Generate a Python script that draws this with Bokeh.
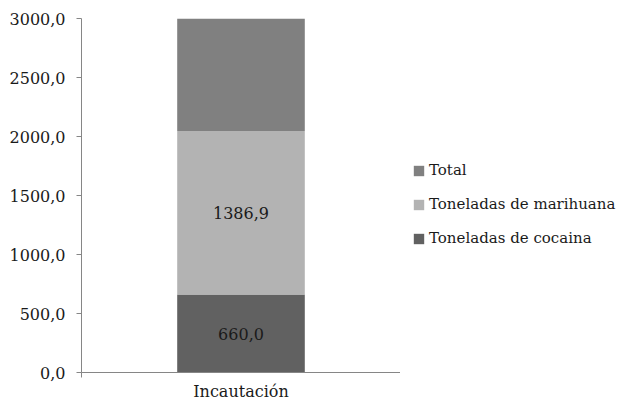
from bokeh.plotting import figure
from bokeh.layouts import row
from bokeh.models import (ColumnDataSource, FixedTicker, Legend, LegendItem,
                          LabelSet, Range1d, FactorRange, LinearAxis)
from bokeh.core.properties import value
from bokeh.embed import file_html
from bokeh.resources import INLINE

# ---- data ----
categories = ["Incautación"]
series_names = ["Toneladas de cocaina", "Toneladas de marihuana", "Total"]
cocaina = [660.0]
marihuana = [1386.9]
total = [2046.9]
y_ticks = [0, 500, 1000, 1500, 2000, 2500, 3000]
y_tick_labels = ["0,0", "500,0", "1000,0", "1500,0", "2000,0", "2500,0", "3000,0"]
colors = ["#616161", "#b3b3b3", "#808080"]

SERIF = "DejaVu Serif"
AXIS_COLOR = "#868686"
TEXT_COLOR = "#1a1a1a"

source = ColumnDataSource(dict(cat=categories, coc=cocaina, mar=marihuana, tot=total))
stack_cols = ["coc", "mar", "tot"]

x_range = FactorRange(factors=categories, range_padding=0)
p = figure(x_range=x_range,
           y_range=Range1d(0, 3000),
           width=400, height=406,
           min_border_left=81, min_border_right=0,
           min_border_top=18, min_border_bottom=34,
           x_axis_type=None,
           output_backend="svg", toolbar_location=None)

renderers = p.vbar_stack(stack_cols, x="cat", width=0.4,
                         color=colors, line_color=None, source=source)

# segment labels (cocaina, marihuana)
mids = [cocaina[0] / 2, cocaina[0] + marihuana[0] / 2]
texts = [f"{v:.1f}".replace(".", ",") for v in (cocaina[0], marihuana[0])]
lab_src = ColumnDataSource(dict(x=[categories[0]] * 2, y=mids, t=texts))
p.add_layout(LabelSet(x="x", y="y", text="t", source=lab_src,
                      text_align="center", text_baseline="middle",
                      text_font=value(SERIF), text_font_size="16px",
                      text_color=TEXT_COLOR))

# axes
p.xgrid.visible = False
p.ygrid.visible = False
p.outline_line_color = None

p.yaxis.ticker = FixedTicker(ticks=y_ticks)
p.yaxis.major_label_overrides = {t: l for t, l in zip(y_ticks, y_tick_labels)}
p.yaxis.minor_tick_line_color = None
p.yaxis.major_tick_out = 5
p.yaxis.major_tick_in = 0
p.yaxis.major_label_standoff = 11
p.yaxis.axis_line_color = AXIS_COLOR
p.yaxis.major_tick_line_color = AXIS_COLOR
p.yaxis.major_label_text_font = SERIF
p.yaxis.major_label_text_font_size = "16px"
p.yaxis.major_label_text_color = TEXT_COLOR

# x axis: tick marks at the category boundaries, category name centred
n_cat = len(categories)
xaxis = LinearAxis(ticker=FixedTicker(ticks=list(range(n_cat + 1))),
                   major_label_overrides={i: "" for i in range(n_cat + 1)},
                   major_label_text_font_size="1px",
                   major_label_standoff=0,
                   minor_tick_line_color=None,
                   major_tick_out=5, major_tick_in=0,
                   major_tick_line_color=AXIS_COLOR,
                   axis_line_color=AXIS_COLOR,
                   axis_label=categories[0],
                   axis_label_standoff=4,
                   axis_label_text_font=SERIF,
                   axis_label_text_font_size="16px",
                   axis_label_text_font_style="normal",
                   axis_label_text_color=TEXT_COLOR)
p.add_layout(xaxis, "below")

# ---- legend panel (separate figure to the right) ----
lg = figure(x_range=FactorRange(factors=categories), y_range=Range1d(-2, -1),
            width=231, height=406,
            min_border_left=0, min_border_right=0,
            min_border_top=18, min_border_bottom=34,
            x_axis_type=None, y_axis_type=None,
            output_backend="svg", toolbar_location=None)
lg.xgrid.visible = False
lg.ygrid.visible = False
lg.outline_line_color = None
lg_renderers = lg.vbar_stack(stack_cols, x="cat", width=0.0,
                             color=colors, line_color=None, source=source)

legend = Legend(items=[LegendItem(label=series_names[i], renderers=[lg_renderers[i]])
                       for i in (2, 1, 0)],
                location=(12, 124),
                border_line_color=None, background_fill_alpha=0,
                padding=0, margin=0, spacing=14,
                glyph_width=13, glyph_height=13, label_standoff=4,
                label_height=20,
                label_text_font=SERIF, label_text_font_size="15px",
                label_text_color=TEXT_COLOR)
lg.add_layout(legend)

layout = row(p, lg)
open("out.html", "w").write(file_html(layout, INLINE))
